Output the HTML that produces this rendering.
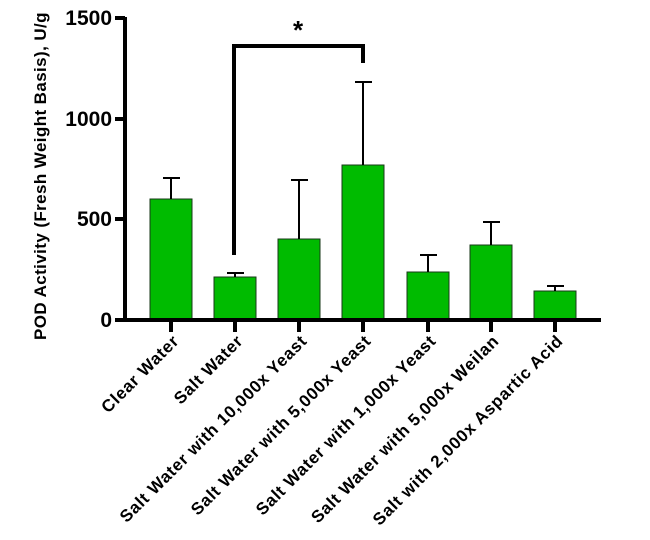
<!DOCTYPE html>
<html><head><meta charset="utf-8"><style>
html,body{margin:0;padding:0;background:#fff;}
svg{display:block;}
text{font-family:"Liberation Sans",sans-serif;font-weight:bold;fill:#000;}
</style></head><body>
<svg width="650" height="540" viewBox="0 0 650 540" xmlns="http://www.w3.org/2000/svg">
<g fill="#00bb00" stroke="#1a3a1a" stroke-width="1">
<rect x="150" y="199" width="42" height="121"/>
<rect x="214" y="277" width="42" height="43"/>
<rect x="278" y="239" width="42" height="81"/>
<rect x="342" y="165" width="42" height="155"/>
<rect x="407" y="272" width="42" height="48"/>
<rect x="470" y="245" width="42" height="75"/>
<rect x="534" y="291" width="42" height="29"/>
</g>
<g stroke="#000" stroke-width="2" fill="none">
<path d="M171 199V178M163 178H180"/>
<path d="M235 277V273M227 273H244"/>
<path d="M299 239V180M291 180H308"/>
<path d="M363 165V82M355 82H372"/>
<path d="M428 272V255M420 255H437"/>
<path d="M491 245V222M483 222H500"/>
<path d="M555 291V286M547 286H564"/>
</g>
<g stroke="#000" stroke-width="4" fill="none">
<path d="M125 17V322"/>
<path d="M115 18H125M115 119H125M115 219H125M115 320H125"/>
<path d="M123 320H601"/>
<path d="M171 320V332M235 320V332M299 320V332M363 320V332M428 320V332M491 320V332M555 320V332"/>
<path d="M234 255V46H363V63"/>
</g>
<text x="298" y="39" font-size="26" text-anchor="middle">*</text>
<g font-size="21" text-anchor="end">
<text x="112" y="25">1500</text>
<text x="112" y="126">1000</text>
<text x="112" y="226">500</text>
<text x="112" y="327">0</text>
</g>
<text transform="translate(46,176) rotate(-90)" font-size="17" letter-spacing="0.4" text-anchor="middle">POD Activity (Fresh Weight Basis), U/g</text>
<g font-size="17" letter-spacing="0.7" text-anchor="end">
<text transform="translate(180,342) rotate(-45)">Clear Water</text>
<text transform="translate(244,342) rotate(-45)">Salt Water</text>
<text transform="translate(308,342) rotate(-45)">Salt Water with 10,000x Yeast</text>
<text transform="translate(372,342) rotate(-45)">Salt Water with 5,000x Yeast</text>
<text transform="translate(437,342) rotate(-45)">Salt Water with 1,000x Yeast</text>
<text transform="translate(500,342) rotate(-45)">Salt Water with 5,000x Weilan</text>
<text transform="translate(564,342) rotate(-45)">Salt with 2,000x Aspartic Acid</text>
</g>
</svg>
</body></html>
